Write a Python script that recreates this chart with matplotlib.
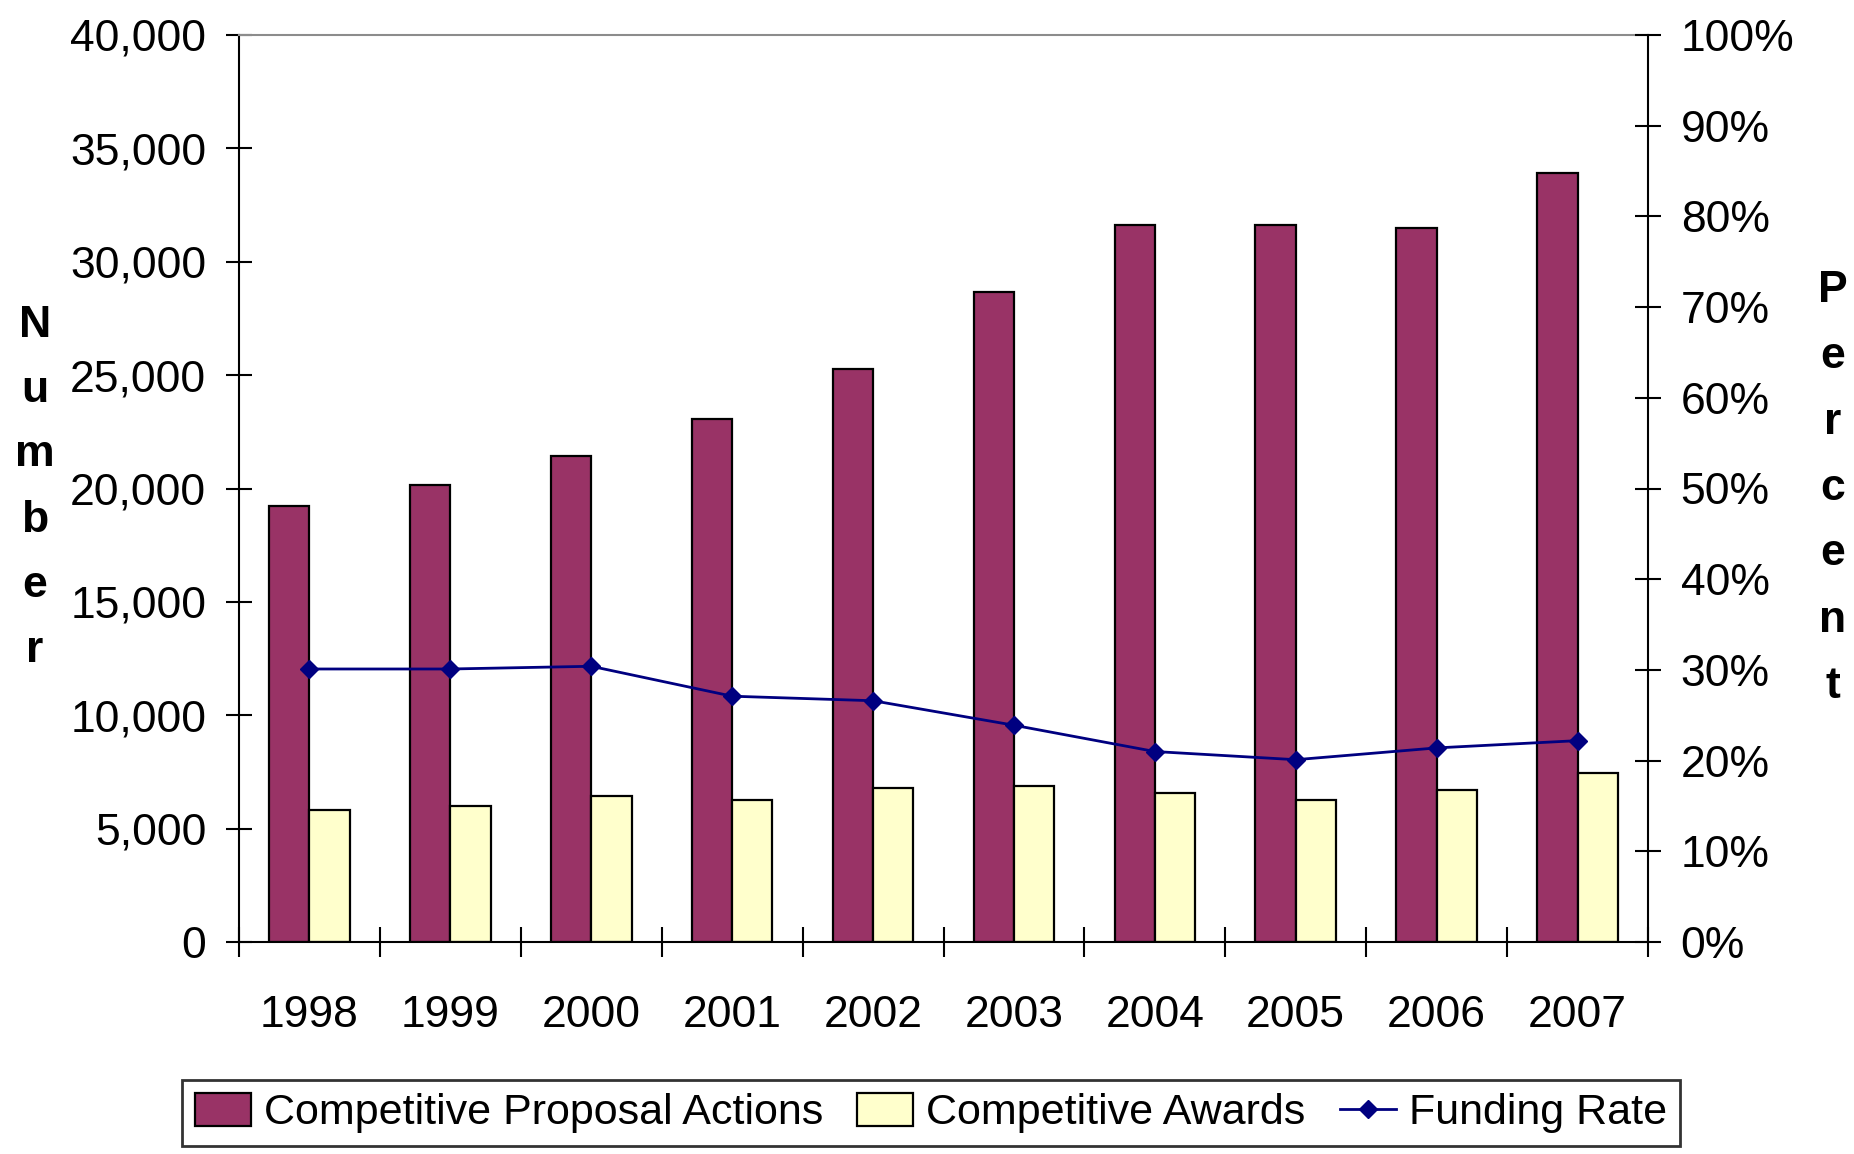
import matplotlib
matplotlib.use("Agg")
import matplotlib.pyplot as plt
import numpy as np
from matplotlib.patches import Patch
from matplotlib.lines import Line2D
from matplotlib.ticker import FuncFormatter, FixedLocator

plt.rcParams['font.family'] = ['Liberation Sans', 'DejaVu Sans']

years = ["1998", "1999", "2000", "2001", "2002", "2003", "2004", "2005", "2006", "2007"]
proposals = [19250, 20150, 21450, 23050, 25250, 28650, 31600, 31600, 31500, 33900]
awards = [5800, 6000, 6450, 6250, 6800, 6900, 6550, 6250, 6700, 7450]
funding_rate = [30.1, 30.1, 30.4, 27.1, 26.6, 23.9, 21.0, 20.1, 21.4, 22.2]

fig = plt.figure(figsize=(18.54, 11.54), dpi=100)
ax = fig.add_axes([239/1854, 1-942/1154, (1648-239)/1854, (942-35)/1154])

x = np.arange(len(years)) + 0.5
w = 0.286
ax.bar(x - w/2, proposals, width=w, color="#993366", edgecolor="black", linewidth=1.6, zorder=2)
ax.bar(x + w/2, awards, width=w, color="#FFFFCC", edgecolor="black", linewidth=1.6, zorder=2)

ax.set_xlim(0, len(years))
ax.set_ylim(0, 40000)
ax.set_yticks(np.arange(0, 40001, 5000))
ax.yaxis.set_major_formatter(FuncFormatter(lambda v, p: f"{int(v):,}"))
ax.xaxis.set_major_locator(FixedLocator(np.arange(0, len(years) + 1)))
ax.xaxis.set_minor_locator(FixedLocator(x))
ax.set_xticklabels([])
ax.set_xticklabels(years, minor=True)
ax.tick_params(axis='x', which='major', direction='inout', length=21, width=1.5, color='black')
ax.tick_params(axis='x', which='minor', length=0, pad=38, labelsize=32)
ax.tick_params(axis='y', direction='inout', length=19, width=1.5, pad=14, labelsize=32)

for s in ['left', 'bottom']:
    ax.spines[s].set_linewidth(1.5)
    ax.spines[s].set_color('black')
ax.spines['top'].set_color('#8c8c8c')
ax.spines['top'].set_linewidth(1.5)
ax.spines['right'].set_visible(False)

ax2 = ax.twinx()
ax2.set_ylim(0, 100)
ax2.set_yticks(np.arange(0, 101, 10))
ax2.yaxis.set_major_formatter(FuncFormatter(lambda v, p: f"{int(v)}%"))
ax2.tick_params(axis='y', direction='inout', length=19, width=1.5, pad=14, labelsize=32)
ax2.spines['right'].set_linewidth(1.5)
ax2.spines['right'].set_color('black')
for s in ['left', 'top', 'bottom']:
    ax2.spines[s].set_visible(False)
ax2.plot(x, funding_rate, color="#000080", linewidth=2, marker='D', markersize=9,
         markerfacecolor="#000080", markeredgecolor="#000080", zorder=3)

# stacked axis titles
for i, ch in enumerate("Number"):
    fig.text(35/1854, 1 - (325 + i*65)/1154, ch, fontsize=32, fontweight='bold',
             ha='center', va='center')
for i, ch in enumerate("Percent"):
    fig.text(1833/1854, 1 - (290 + i*66)/1154, ch, fontsize=32, fontweight='bold',
             ha='center', va='center')

handles = [Patch(facecolor="#993366", edgecolor="black", linewidth=1.6),
           Patch(facecolor="#FFFFCC", edgecolor="black", linewidth=1.6),
           Line2D([], [], color="#000080", linewidth=2, marker='D', markersize=9)]
labels = ["Competitive Proposal Actions", "Competitive Awards", "Funding Rate"]
leg = fig.legend(handles, labels, loc='upper center', bbox_to_anchor=(931/1854, 1 - 1080/1154),
                 ncol=3, fontsize=31, frameon=True, fancybox=False, edgecolor='black',
                 handlelength=1.3, handleheight=0.8, handletextpad=0.3, columnspacing=0.8,
                 borderpad=0.3, borderaxespad=0)
leg.get_frame().set_linewidth(2)

fig.savefig("out.png", dpi=100)
